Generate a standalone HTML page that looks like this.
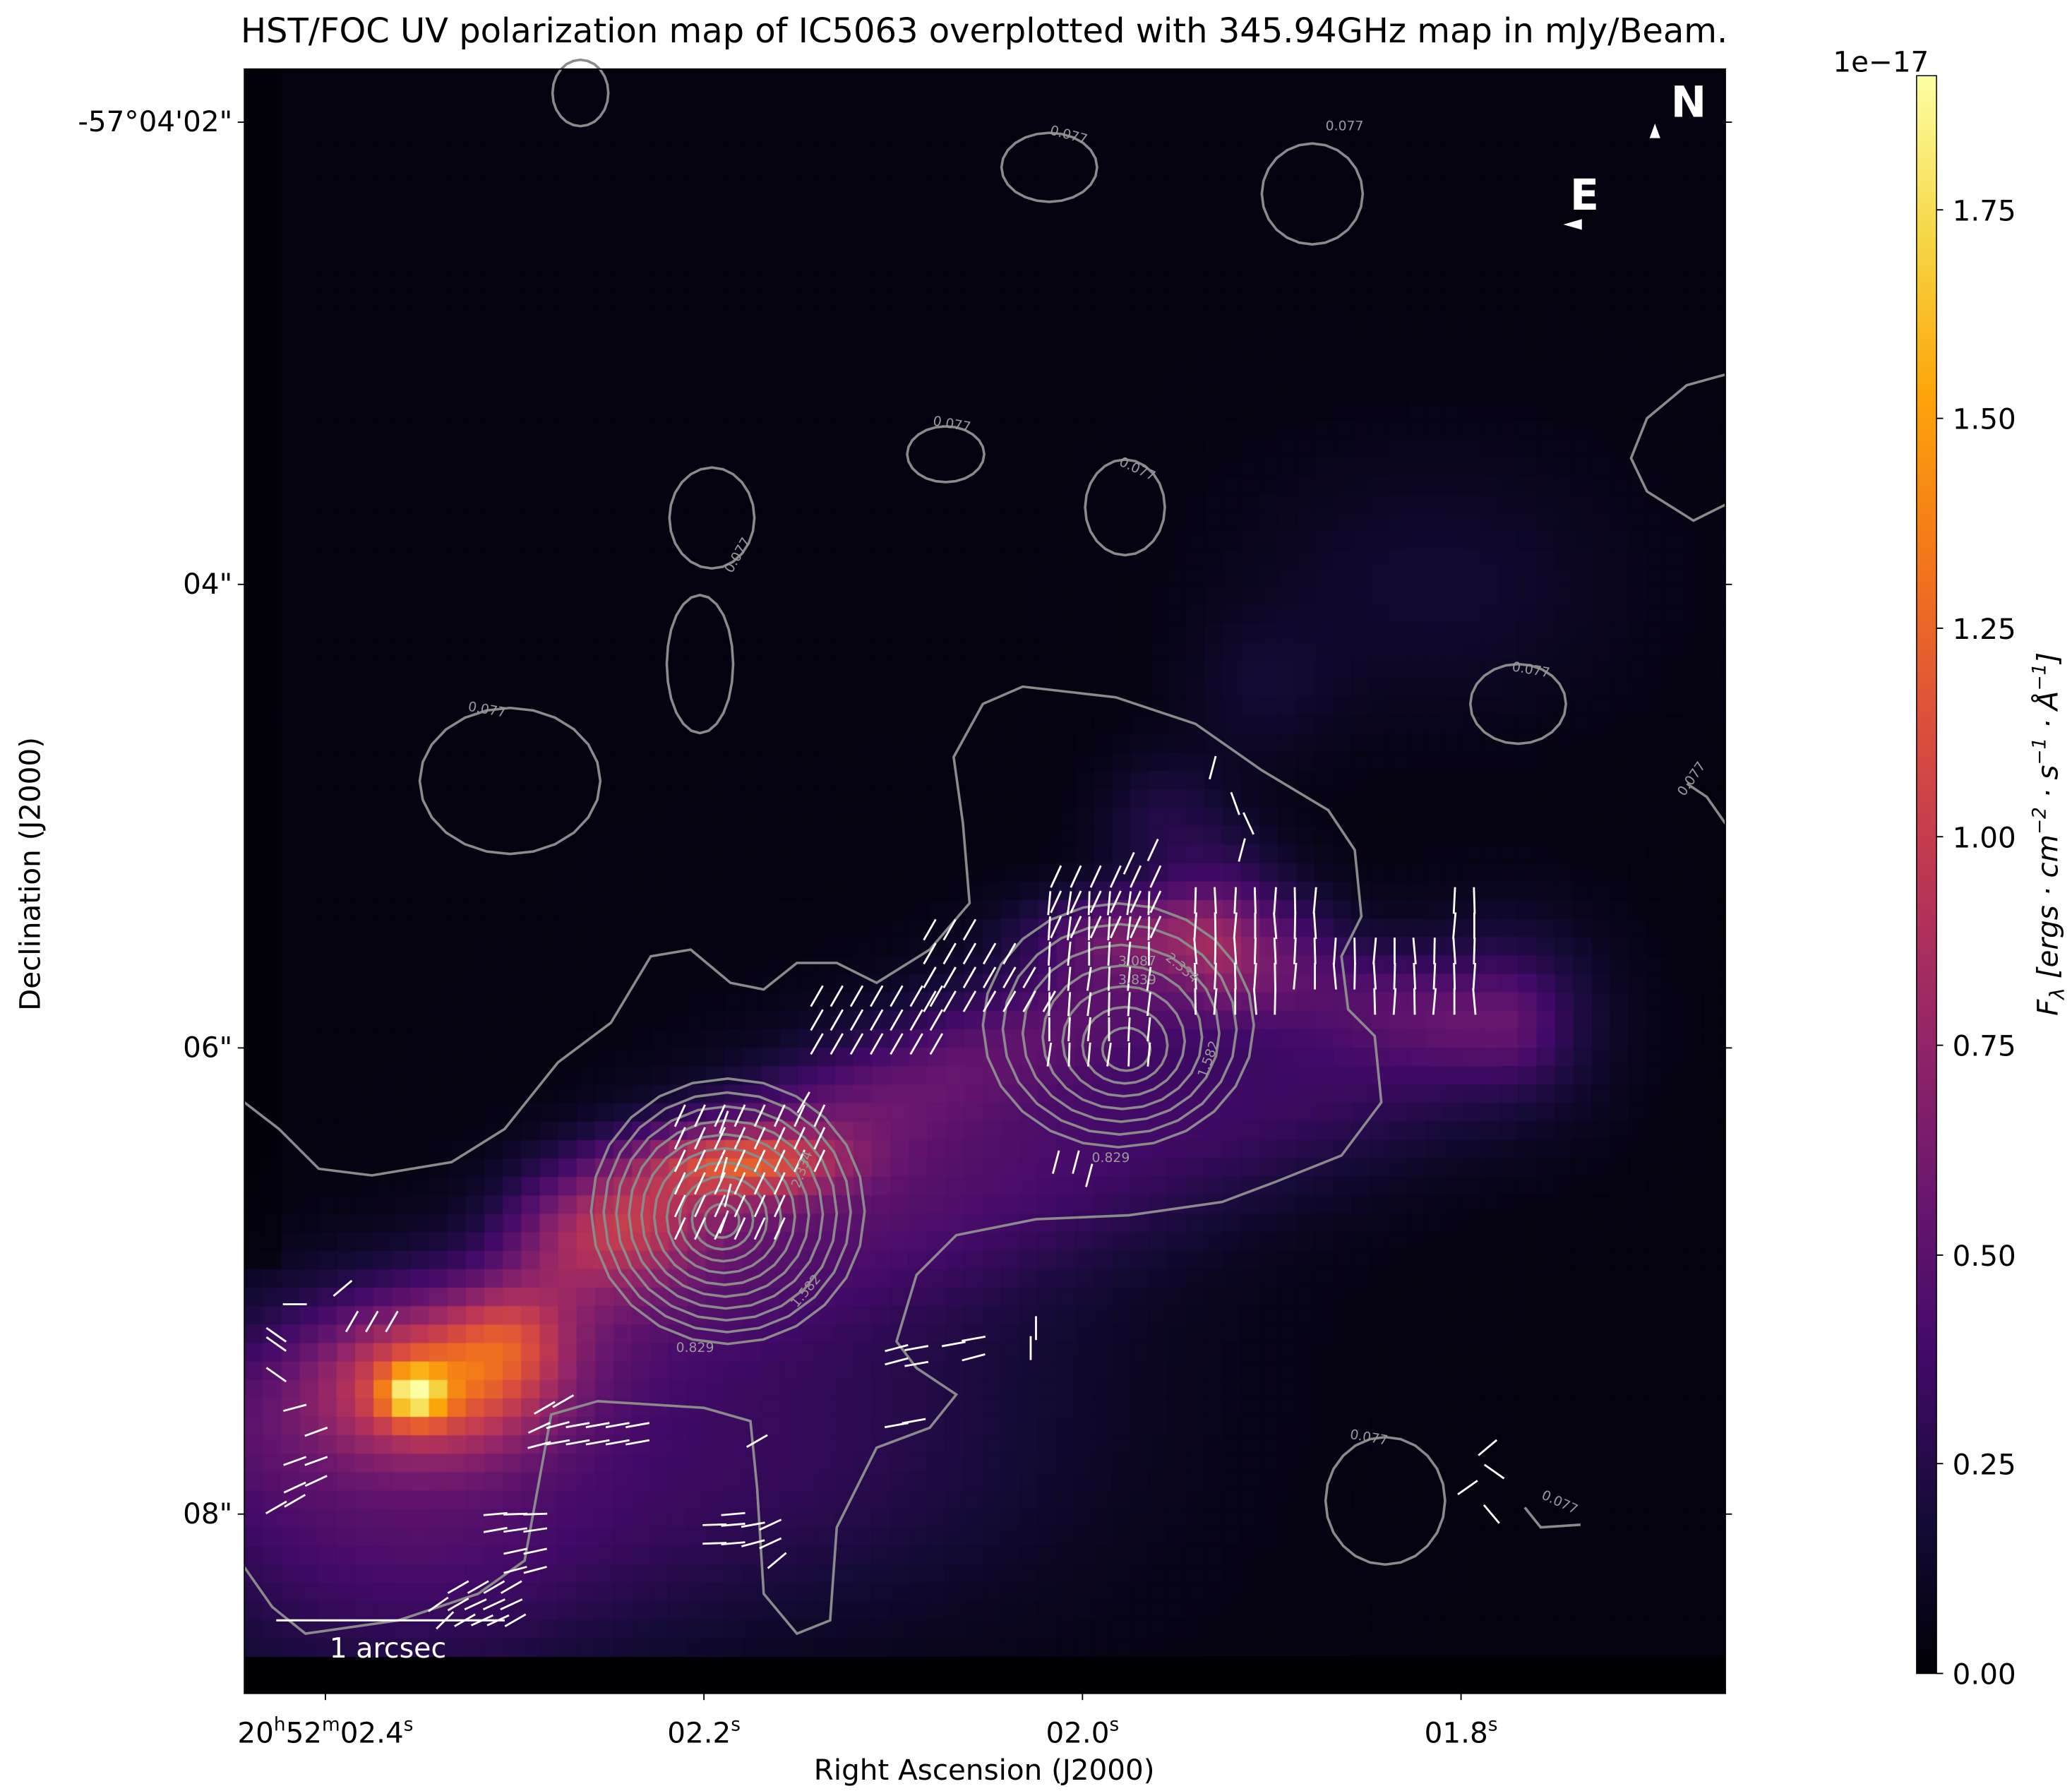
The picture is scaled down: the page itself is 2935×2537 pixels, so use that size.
<!DOCTYPE html>
<html><head><meta charset="utf-8"><style>
html,body{margin:0;padding:0;background:#fff;}
#wrap{position:relative;width:2935px;height:2537px;overflow:hidden;background:#fff;}
#hm{position:absolute;left:346px;top:98px;}
svg{position:absolute;left:0;top:0;}
text{font-family:"DejaVu Sans","Liberation Sans",sans-serif;}
</style></head><body><div id="wrap">
<canvas id="hm" width="2098" height="2301"></canvas>
<svg id="ov" width="2935" height="2537" viewBox="0 0 1560 1348.5" preserveAspectRatio="none">
<defs><linearGradient id="cb" x1="0" y1="1" x2="0" y2="0">
<stop offset="0" stop-color="#000004"/><stop offset="0.1" stop-color="#160b39"/><stop offset="0.2" stop-color="#420a68"/><stop offset="0.3" stop-color="#6a176e"/><stop offset="0.4" stop-color="#932667"/><stop offset="0.5" stop-color="#bc3754"/><stop offset="0.6" stop-color="#dd513a"/><stop offset="0.7" stop-color="#f37819"/><stop offset="0.8" stop-color="#fca50a"/><stop offset="0.9" stop-color="#f6d746"/><stop offset="1" stop-color="#fcffa4"/></linearGradient></defs>
<g id="cont" fill="none" stroke="#8a8a8a" stroke-width="1.9"></g>
<g id="vec" stroke="#fff" stroke-width="1.5"></g>
<g fill="#999" font-size="10">
<text x="352" y="535" transform="rotate(10 352 535)">0.077</text>
<text x="790" y="101" transform="rotate(15 790 101)">0.077</text>
<text x="998" y="98">0.077</text>
<text x="702" y="320" transform="rotate(10 702 320)">0.077</text>
<text x="842" y="350" transform="rotate(25 842 350)">0.077</text>
<text x="551" y="432" transform="rotate(-60 551 432)">0.077</text>
<text x="1138" y="505" transform="rotate(10 1138 505)">0.077</text>
<text x="1268" y="600" transform="rotate(-55 1268 600)">0.077</text>
<text x="1016" y="1083" transform="rotate(10 1016 1083)">0.077</text>
<text x="1160" y="1128" transform="rotate(25 1160 1128)">0.077</text>
<text x="822" y="875">0.829</text>
<text x="509" y="1018">0.829</text>
<text x="908" y="812" transform="rotate(-70 908 812)">1.582</text>
<text x="600" y="985" transform="rotate(-50 600 985)">1.582</text>
<text x="877" y="722" transform="rotate(40 877 722)">2.334</text>
<text x="842" y="727">3.087</text>
<text x="842" y="741">3.839</text>
<text x="602" y="895" transform="rotate(-70 602 895)">2.334</text>
</g>
<g stroke="#000" stroke-width="1">
<line x1="184" y1="92" x2="179" y2="92"/><line x1="184" y1="440" x2="179" y2="440"/><line x1="184" y1="789" x2="179" y2="789"/><line x1="184" y1="1140" x2="179" y2="1140"/>
<line x1="1299" y1="92" x2="1304" y2="92"/><line x1="1299" y1="440" x2="1304" y2="440"/><line x1="1299" y1="789" x2="1304" y2="789"/><line x1="1299" y1="1140" x2="1304" y2="1140"/>
<line x1="245" y1="1275" x2="245" y2="1280"/><line x1="530" y1="1275" x2="530" y2="1280"/><line x1="815" y1="1275" x2="815" y2="1280"/><line x1="1100" y1="1275" x2="1100" y2="1280"/>
</g>
<g font-size="21.5" fill="#000">
<text x="741" y="32" text-anchor="middle" font-size="25.5">HST/FOC UV polarization map of IC5063 overplotted with 345.94GHz map in mJy/Beam.</text>
<text x="175" y="99" text-anchor="end">-57°04'02"</text>
<text x="175" y="447" text-anchor="end">04"</text>
<text x="175" y="796" text-anchor="end">06"</text>
<text x="175" y="1147" text-anchor="end">08"</text>
<text x="245" y="1312" text-anchor="middle">20<tspan font-size="14" dy="-9">h</tspan><tspan dy="9">52</tspan><tspan font-size="14" dy="-9">m</tspan><tspan dy="9">02.4</tspan><tspan font-size="14" dy="-9">s</tspan></text>
<text x="530" y="1312" text-anchor="middle">02.2<tspan font-size="14" dy="-9">s</tspan></text>
<text x="815" y="1312" text-anchor="middle">02.0<tspan font-size="14" dy="-9">s</tspan></text>
<text x="1100" y="1312" text-anchor="middle">01.8<tspan font-size="14" dy="-9">s</tspan></text>
<text x="741" y="1340" text-anchor="middle">Right Ascension (J2000)</text>
<text transform="translate(30 658) rotate(-90)" text-anchor="middle">Declination (J2000)</text>
<text x="1380" y="54">1e−17</text>
<text x="1470" y="1268">0.00</text><text x="1470" y="1110">0.25</text><text x="1470" y="953">0.50</text><text x="1470" y="795">0.75</text><text x="1470" y="638">1.00</text><text x="1470" y="481">1.25</text><text x="1470" y="323">1.50</text><text x="1470" y="166">1.75</text>
<text transform="translate(1549 628) rotate(-90)" text-anchor="middle" font-style="italic">F<tspan font-size="15" dy="5">λ</tspan><tspan dy="-5"> [ergs · cm</tspan><tspan font-size="14" dy="-9">−2</tspan><tspan dy="9"> · s</tspan><tspan font-size="14" dy="-9">−1</tspan><tspan dy="9"> · Å</tspan><tspan font-size="14" dy="-9">−1</tspan><tspan dy="9">]</tspan></text>
</g>
<g stroke="#000" stroke-width="1">
<line x1="1458" y1="1260" x2="1463" y2="1260"/><line x1="1458" y1="1102" x2="1463" y2="1102"/><line x1="1458" y1="945" x2="1463" y2="945"/><line x1="1458" y1="787" x2="1463" y2="787"/><line x1="1458" y1="630" x2="1463" y2="630"/><line x1="1458" y1="473" x2="1463" y2="473"/><line x1="1458" y1="315" x2="1463" y2="315"/><line x1="1458" y1="158" x2="1463" y2="158"/>
</g>
<rect x="1443" y="57" width="15" height="1203" fill="url(#cb)" stroke="#000" stroke-width="0.8"/>
<rect x="184" y="52" width="1115" height="1223" fill="none" stroke="#000" stroke-width="1"/>
<line x1="208" y1="1220" x2="380" y2="1220" stroke="#fff" stroke-width="1.6"/>
<text x="248" y="1248" fill="#fff" font-size="21">1 arcsec</text>
<text x="1258" y="88" fill="#fff" font-size="32" font-weight="bold">N</text>
<polygon points="1246,93 1242,104 1250,104" fill="#fff"/>
<text x="1182" y="158" fill="#fff" font-size="32" font-weight="bold">E</text>
<polygon points="1177,169 1191,165 1191,173" fill="#fff"/>
</svg>
<script>
(function(){
var S=1.8814;
var c=document.getElementById('hm'),x=c.getContext('2d');
var cm=[[0,0,0,4],[.1,22,11,57],[.2,66,10,104],[.3,106,23,110],[.4,147,38,103],[.5,188,55,84],[.6,221,81,58],[.7,243,120,25],[.8,252,165,10],[.9,246,215,70],[1,252,255,164]];
function col(v){v=Math.max(0,Math.min(1,v));for(var i=1;i<cm.length;i++){if(v<=cm[i][0]){var a=cm[i-1],b=cm[i],t=(v-a[0])/(b[0]-a[0]);return 'rgb('+Math.round(a[1]+t*(b[1]-a[1]))+','+Math.round(a[2]+t*(b[2]-a[2]))+','+Math.round(a[3]+t*(b[3]-a[3]))+')';}}return 'rgb(252,255,164)';}
function g(px,py,cx,cy,sx,sy,a){var dx=(px-cx)/sx,dy=(py-cy)/sy;return a*Math.exp(-0.5*(dx*dx+dy*dy));}
function seg(px,py,x1,y1,x2,y2,s,a){var vx=x2-x1,vy=y2-y1,L=vx*vx+vy*vy,t=((px-x1)*vx+(py-y1)*vy)/L;t=Math.max(0,Math.min(1,t));var qx=x1+t*vx-px,qy=y1+t*vy-py;return a*Math.exp(-0.5*(qx*qx+qy*qy)/(s*s));}
function f(px,py){
 if(py>1245) return 0;
 var v=0.04;
 v+=g(px,py,312,1050,16,14,0.75);
 v+=g(px,py,330,1040,60,40,0.8);
 v+=g(px,py,385,1005,30,30,0.35);
 v+=g(px,py,560,875,50,18,0.6);
 v+=g(px,py,470,920,40,35,0.35);
 v+=seg(px,py,200,1060,1130,770,55,0.3);
 v+=seg(px,py,430,930,900,720,38,0.38);
 v+=g(px,py,850,700,55,22,0.35);
 v+=seg(px,py,880,620,960,700,35,0.2);
 v+=seg(px,py,930,730,1130,770,28,0.22);
 v+=g(px,py,1080,440,100,70,0.12);
 v+=g(px,py,950,520,40,40,0.1);
 v+=g(px,py,300,1160,130,80,0.35);
 v+=g(px,py,550,1100,140,80,0.2);
 v+=g(px,py,700,1000,150,150,0.1);
 if(px<215&&py<950) v*=0.5;
 return v;}
x.scale(S,S);x.translate(-184,-52);
var B=13.9;
for(var yy=52;yy<1275;yy+=B){for(var xx=184;xx<1299;xx+=B){var v=f(xx+B/2,yy+B/2)/1.9;x.fillStyle=col(v);x.fillRect(xx,yy,B+0.6,B+0.6);}}
var NS='http://www.w3.org/2000/svg';
function pl(pts,closed){var e=document.createElementNS(NS,closed?'polygon':'polyline');e.setAttribute('points',pts);document.getElementById('cont').appendChild(e);}
pl("184,830 210,850 240,880 280,885 340,875 380,850 420,800 460,770 490,720 520,715 550,740 575,745 600,725 630,725 660,740 700,715 730,680 725,620 718,570 740,530 770,517 840,525 900,545 950,580 1000,610 1020,640 1025,690 1010,720 1015,760 1035,780 1040,830 1010,870 960,890 920,905 850,915 780,918 720,930 690,960 675,1010 690,1030 720,1050 700,1075 660,1090 630,1150 625,1220 600,1230 575,1200 570,1120 565,1070 530,1060 450,1055 415,1065 405,1120 395,1175 360,1200 300,1220 230,1230 205,1210 184,1180");
function ell(cx,cy,rx,ry){var p=[];for(var i=0;i<=24;i++){var a=i/24*2*Math.PI;p.push((cx+rx*Math.cos(a)).toFixed(1)+','+(cy+ry*Math.sin(a)).toFixed(1));}pl(p.join(' '),true);}
for(var k=0;k<10;k++){var r=103-k*10;ell(548-k*0.5,912+k*0.8,r,r*0.97);}
for(var k=0;k<7;k++){var r=102-k*14;ell(842+k,772+k*3,r,r*0.9);}
ell(384,588,68,55);ell(790,126,36,26);ell(988,146,38,38);ell(712,342,29,21);ell(847,382,30,36);ell(1143,530,36,30);ell(437,70,21,25);
ell(536,390,32,38);ell(527,500,25,52);ell(1043,1130,45,48);
pl("1299,282 1270,290 1240,315 1228,345 1240,370 1275,392 1299,380");
pl("1148,1135 1160,1150 1190,1148");pl("1270,590 1285,600 1299,620");
var V=document.getElementById('vec');
function vl(cx,cy,ang,len){len=len||18;var a=ang*Math.PI/180,dx=Math.sin(a)*len/2,dy=Math.cos(a)*len/2;var e=document.createElementNS(NS,'line');e.setAttribute('x1',(cx-dx).toFixed(1));e.setAttribute('y1',(cy+dy).toFixed(1));e.setAttribute('x2',(cx+dx).toFixed(1));e.setAttribute('y2',(cy-dy).toFixed(1));V.appendChild(e);}
var y,xi;
for(y=678;y<=770;y+=19){for(xi=900;xi<=1110;xi+=15){if(y<=700&&xi>990&&xi<1090)continue;if(y>740&&xi<1030&&xi>960)continue;vl(xi,y,((xi*7+y*3)%11)-5,20);}}
for(y=680;y<=800;y+=19){for(xi=790;xi<=870;xi+=15){vl(xi,y,8-((xi+y)%9),18);}}
vl(913,578,15);vl(930,605,-20);vl(940,620,-25);vl(935,640,15);vl(868,640,25);vl(850,650,25);
for(y=660;y<=700;y+=19){for(xi=795;xi<=870;xi+=15)vl(xi,y,25);}
for(y=700;y<=760;y+=18){for(xi=700;xi<=790;xi+=15){if(xi-700>(y-690)*1.2+30)continue;vl(xi,y,30);}}
for(y=750;y<=800;y+=18){for(xi=615;xi<=705;xi+=15)vl(xi,y,30);}
for(y=840;y<=930;y+=17){for(xi=512;xi<=620;xi+=15){if(xi>600&&y>880)continue;vl(xi,y,25);}}
vl(545,845,20);vl(605,830,30);vl(820,885,15);vl(795,875,15);vl(810,875,15);
var pts=[[258,970,50],[265,995,30],[280,995,30],[295,995,30],[222,982,90],[208,1012,-55],[208,1035,-55],[208,1005,-55],[222,1060,75],[238,1078,70],[222,1100,70],[238,1100,70],[222,1120,65],[238,1115,65],[208,1135,60],[222,1130,60],[410,1060,60],[424,1055,60],[406,1075,65],[420,1073,75],[435,1073,80],[450,1073,80],[465,1073,80],[480,1073,80],[406,1088,75],[420,1086,80],[435,1086,80],[450,1086,80],[465,1086,80],[480,1086,80],[373,1140,85],[388,1140,88],[403,1140,88],[373,1152,80],[388,1152,82],[403,1152,82],[388,1168,78],[403,1168,78],[388,1182,75],[403,1182,75],[345,1195,60],[360,1195,60],[372,1195,60],[385,1195,60],[330,1208,55],[345,1208,60],[358,1208,65],[372,1208,65],[385,1208,65],[335,1220,45],[350,1220,60],[363,1220,65],[375,1220,65],[388,1220,60],[570,1085,60],[552,1140,85],[538,1148,88],[552,1148,85],[567,1148,80],[580,1148,65],[538,1162,88],[552,1162,85],[567,1162,75],[580,1162,65],[585,1175,50],[675,1015,75],[690,1015,80],[675,1025,75],[690,1027,80],[718,1012,80],[733,1008,80],[733,1022,75],[780,1000,0],[776,1015,0],[675,1073,80],[688,1070,80],[1105,1120,55],[1120,1090,50],[1125,1108,-55],[1123,1140,-40],[545,920,20],[548,900,15],[545,880,15]];
pts.forEach(function(p){vl(p[0],p[1],p[2],18);});
})();
</script>
</div></body></html>
